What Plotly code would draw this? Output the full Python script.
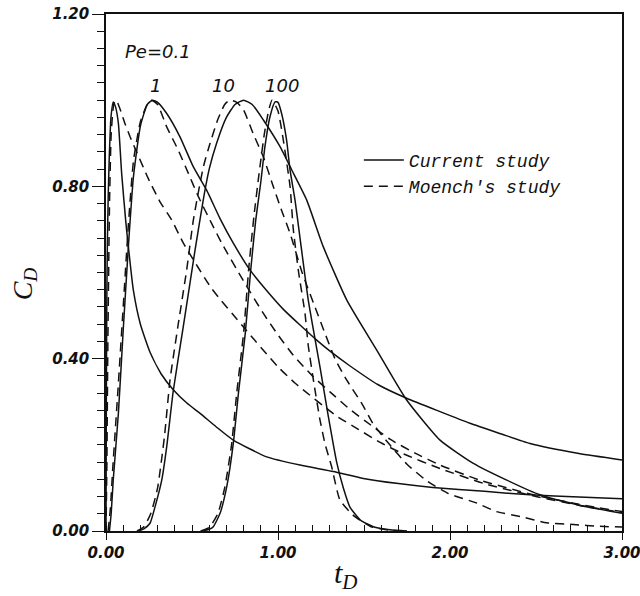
import plotly.graph_objects as go

# ---------------- data ----------------
pe01_cur_t = [0.0, 0.002, 0.005, 0.008, 0.013, 0.019, 0.029, 0.042, 0.055, 0.072, 0.091, 0.116, 0.13, 0.159, 0.2, 0.256, 0.32, 0.391, 0.47, 0.547, 0.64, 0.74, 0.934, 1.128, 1.322, 1.496, 1.7, 1.9, 2.2, 2.465, 2.75, 3.0]
pe01_cur_c = [0.0, 0.3, 0.55, 0.668, 0.78, 0.868, 0.961, 0.996, 0.985, 0.946, 0.83, 0.714, 0.66, 0.559, 0.48, 0.415, 0.365, 0.328, 0.297, 0.273, 0.242, 0.211, 0.172, 0.153, 0.138, 0.122, 0.11, 0.101, 0.092, 0.084, 0.079, 0.075]

pe01_moe_t = [0.0, 0.005, 0.01, 0.02, 0.03, 0.045, 0.06, 0.081, 0.11, 0.14, 0.178, 0.246, 0.314, 0.382, 0.45, 0.614, 0.798, 1.0, 1.1, 1.34, 1.467, 1.597, 1.729, 1.942, 2.2, 2.5, 2.75, 3.0]
pe01_moe_c = [0.0, 0.15, 0.4, 0.75, 0.92, 0.99, 1.0, 0.98, 0.946, 0.915, 0.88, 0.818, 0.764, 0.722, 0.668, 0.563, 0.474, 0.381, 0.343, 0.267, 0.236, 0.205, 0.179, 0.145, 0.11, 0.08, 0.06, 0.043]

pe1_cur_t = [0.02, 0.03, 0.042, 0.072, 0.1, 0.13, 0.159, 0.2, 0.24, 0.27, 0.3, 0.353, 0.43, 0.508, 0.585, 0.663, 0.74, 0.837, 0.93, 1.03, 1.128, 1.225, 1.31, 1.419, 1.58, 1.748, 1.942, 2.116, 2.3, 2.465, 2.75, 3.0]
pe1_cur_c = [0.0, 0.04, 0.118, 0.273, 0.466, 0.66, 0.82, 0.94, 0.99, 1.0, 0.995, 0.969, 0.915, 0.845, 0.791, 0.725, 0.668, 0.606, 0.56, 0.515, 0.478, 0.443, 0.415, 0.383, 0.34, 0.308, 0.277, 0.25, 0.225, 0.203, 0.18, 0.165]

pe1_moe_t = [0.012, 0.025, 0.04, 0.07, 0.1, 0.13, 0.16, 0.2, 0.24, 0.265, 0.3, 0.353, 0.42, 0.479, 0.537, 0.614, 0.673, 0.8, 0.915, 1.0, 1.089, 1.2, 1.302, 1.419, 1.539, 1.651, 1.8, 1.942, 2.174, 2.484, 2.75, 3.0]
pe1_moe_c = [0.0, 0.05, 0.15, 0.33, 0.52, 0.71, 0.86, 0.95, 0.99, 1.0, 0.99, 0.938, 0.884, 0.83, 0.776, 0.714, 0.668, 0.58, 0.505, 0.455, 0.408, 0.36, 0.323, 0.282, 0.246, 0.213, 0.18, 0.153, 0.118, 0.084, 0.062, 0.045]

pe10_cur_t = [0.19, 0.22, 0.256, 0.285, 0.324, 0.353, 0.391, 0.45, 0.517, 0.566, 0.6, 0.643, 0.7, 0.75, 0.8, 0.85, 0.915, 1.012, 1.08, 1.167, 1.263, 1.4, 1.574, 1.748, 1.942, 2.136, 2.33, 2.523, 2.75, 3.0]
pe10_cur_c = [0.0, 0.005, 0.018, 0.056, 0.118, 0.196, 0.325, 0.476, 0.65, 0.77, 0.84, 0.9, 0.96, 0.99, 1.0, 0.99, 0.954, 0.892, 0.838, 0.768, 0.66, 0.536, 0.42, 0.304, 0.211, 0.157, 0.118, 0.084, 0.06, 0.041]

pe10_moe_t = [0.18, 0.22, 0.26, 0.3, 0.34, 0.372, 0.42, 0.469, 0.508, 0.566, 0.605, 0.65, 0.69, 0.72, 0.76, 0.8, 0.856, 0.915, 0.973, 1.02, 1.07, 1.14, 1.215, 1.273, 1.331, 1.4, 1.487, 1.554, 1.65, 1.75, 1.86, 1.99, 2.155, 2.27, 2.417, 2.562, 2.717, 2.87, 3.0]
pe10_moe_c = [0.0, 0.01, 0.04, 0.1, 0.22, 0.35, 0.48, 0.606, 0.722, 0.845, 0.9, 0.955, 0.99, 1.0, 0.995, 0.977, 0.922, 0.868, 0.799, 0.745, 0.691, 0.6, 0.52, 0.459, 0.40, 0.35, 0.296, 0.248, 0.2, 0.155, 0.118, 0.087, 0.065, 0.045, 0.033, 0.019, 0.015, 0.011, 0.009]

pe100_cur_t = [0.56, 0.6, 0.624, 0.663, 0.702, 0.74, 0.77, 0.81, 0.84, 0.87, 0.9, 0.924, 0.953, 0.983, 1.0, 1.021, 1.05, 1.07, 1.099, 1.128, 1.176, 1.244, 1.293, 1.341, 1.38, 1.419, 1.48, 1.554, 1.65, 1.75]
pe100_cur_c = [0.0, 0.004, 0.01, 0.041, 0.103, 0.203, 0.32, 0.46, 0.6, 0.72, 0.81, 0.892, 0.961, 0.996, 0.995, 0.969, 0.907, 0.838, 0.768, 0.68, 0.536, 0.381, 0.265, 0.16, 0.1, 0.055, 0.025, 0.01, 0.003, 0.0]

pe100_moe_t = [0.55, 0.6, 0.65, 0.69, 0.73, 0.76, 0.8, 0.83, 0.86, 0.89, 0.92, 0.945, 0.965, 1.0, 1.031, 1.07, 1.089, 1.12, 1.157, 1.176, 1.21, 1.244, 1.273, 1.312, 1.36, 1.436, 1.541, 1.65, 1.75]
pe100_moe_c = [0.0, 0.008, 0.04, 0.1, 0.2, 0.32, 0.46, 0.61, 0.73, 0.83, 0.92, 0.975, 1.0, 0.975, 0.907, 0.8, 0.7, 0.6, 0.505, 0.43, 0.34, 0.258, 0.203, 0.149, 0.072, 0.037, 0.01, 0.002, 0.0]

pe_labels = ["Pe=0.1", "1", "10", "100"]
pe_label_x = [0.1, 0.29, 0.685, 1.025]
pe_label_y = [1.112, 1.035, 1.035, 1.035]
series_names = ["Current study", "Moench's study"]
x_ticks = [0, 1, 2, 3]
y_ticks = [0.0, 0.4, 0.8, 1.2]

# ---------------- figure ----------------
INK = "#111111"
DASH = "9px,6px"
fig = go.Figure()

curves = [
    (pe01_cur_t, pe01_cur_c, "solid", True),
    (pe1_cur_t, pe1_cur_c, "solid", False),
    (pe10_cur_t, pe10_cur_c, "solid", False),
    (pe100_cur_t, pe100_cur_c, "solid", False),
    (pe01_moe_t, pe01_moe_c, DASH, True),
    (pe1_moe_t, pe1_moe_c, DASH, False),
    (pe10_moe_t, pe10_moe_c, DASH, False),
    (pe100_moe_t, pe100_moe_c, DASH, False),
]
for t, c, dash, show in curves:
    name = series_names[0] if dash == "solid" else series_names[1]
    fig.add_trace(go.Scatter(
        x=t, y=c, mode="lines", name=name, legendgroup=name, showlegend=show,
        line=dict(color=INK, width=1.5, dash=dash, shape="spline", smoothing=0.5),
        hoverinfo="skip",
    ))

for txt, lx, ly in zip(pe_labels, pe_label_x, pe_label_y):
    fig.add_annotation(
        x=lx, y=ly, xref="x", yref="y", text=txt, showarrow=False,
        xanchor="left" if txt.startswith("Pe") else "center", yanchor="middle",
        font=dict(family="DejaVu Sans", size=18, color=INK, style="italic"),
    )

# axis titles
fig.add_annotation(
    x=-0.158, y=0.478, xref="paper", yref="paper", showarrow=False,
    xanchor="center", yanchor="middle",
    text="C<sub>D</sub>", textangle=-90,
    font=dict(family="Liberation Serif", size=28, color=INK, style="italic"),
)
fig.add_annotation(
    x=0.465, y=-0.085, xref="paper", yref="paper", showarrow=False,
    text="t<sub>D</sub>", xanchor="center", yanchor="middle",
    font=dict(family="Liberation Serif", size=30, color=INK, style="italic"),
)

tickfont = dict(family="DejaVu Sans", size=15, color=INK, weight="bold", style="italic")
fig.update_xaxes(
    range=[0, 3], tickmode="array", tickvals=x_ticks,
    ticktext=[f"{v:.2f}" for v in x_ticks], ticklabeloverflow="allow", automargin=False,
    showline=True, linewidth=1.5, linecolor=INK, mirror=True,
    ticks="outside", ticklen=7, tickwidth=1.3, tickcolor=INK,
    minor=dict(dtick=0.1, tick0=0, ticks="inside", ticklen=6, tickwidth=1.2, tickcolor=INK),
    showgrid=False, zeroline=False, tickfont=tickfont,
)
fig.update_yaxes(
    range=[0, 1.2], tickmode="array", tickvals=y_ticks,
    ticktext=[f"{v:.2f}" for v in y_ticks], ticklabeloverflow="allow", automargin=False,
    showline=True, linewidth=1.5, linecolor=INK, mirror=True,
    ticks="outside", ticklen=12, tickwidth=1.3, tickcolor=INK,
    minor=dict(dtick=0.04, tick0=0, ticks="outside", ticklen=7, tickwidth=1.2, tickcolor=INK),
    showgrid=False, zeroline=False, tickfont=tickfont,
)

fig.update_layout(
    width=640, height=596,
    margin=dict(l=106, r=18, t=14, b=65, autoexpand=False),
    paper_bgcolor="white", plot_bgcolor="white",
    showlegend=True,
    legend=dict(
        x=0.49, y=0.753, xanchor="left", yanchor="top",
        bgcolor="rgba(0,0,0,0)", borderwidth=0,
        font=dict(family="Liberation Mono", size=18, color=INK, style="italic"),
        tracegroupgap=0, itemwidth=40,
    ),
)

fig.write_html("out.html")
